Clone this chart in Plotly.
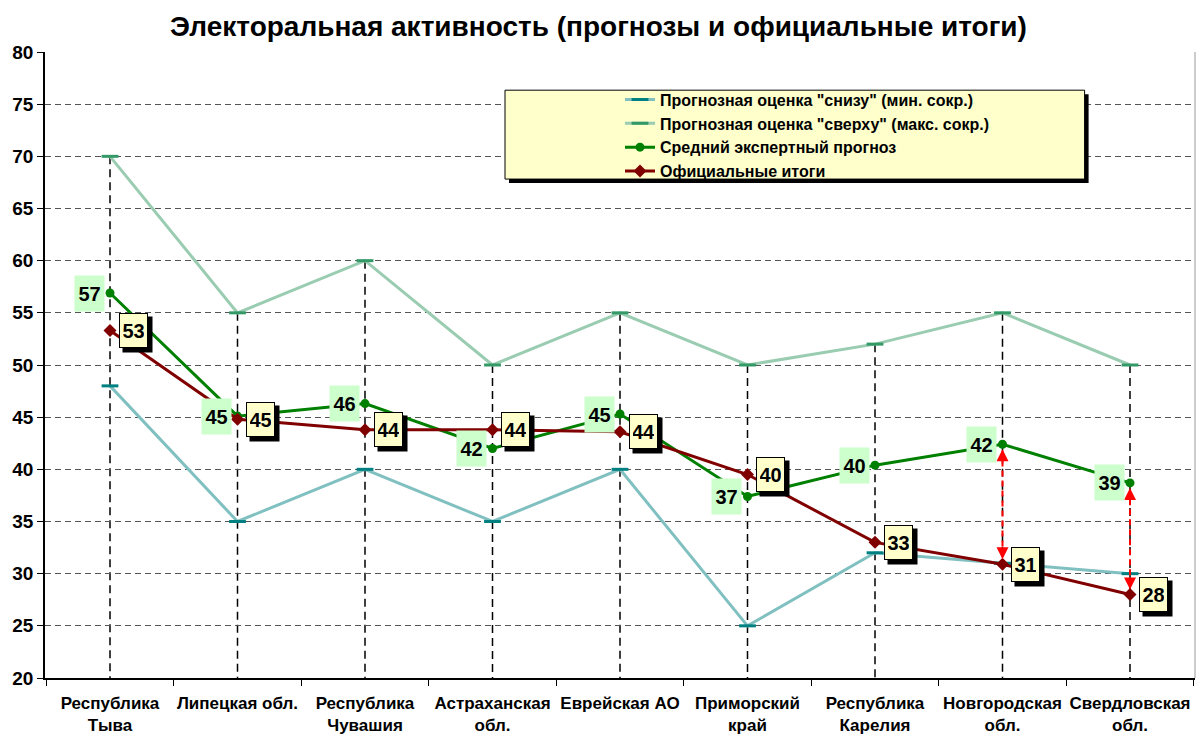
import plotly.graph_objects as go

categories = ["Республика<br>Тыва", "Липецкая обл.", "Республика<br>Чувашия", "Астраханская<br>обл.",
              "Еврейская АО", "Приморский<br>край", "Республика<br>Карелия", "Новгородская<br>обл.",
              "Свердловская<br>обл."]
lower = [48, 35, 40, 35, 40, 25, 32, 31, 30]
upper = [70, 55, 60, 50, 55, 50, 52, 55, 50]
mean_forecast = [56.9, 45.1, 46.3, 42.0, 45.3, 37.4, 40.4, 42.4, 38.7]
official = [53.3, 44.8, 43.8, 43.8, 43.6, 39.5, 33.0, 30.9, 28.0]
mean_labels = ["57", "45", "46", "42", "45", "37", "40", "42", "39"]
official_labels = ["53", "45", "44", "44", "44", "40", "33", "31", "28"]
arrow_idx = [7, 8]

FONT = "Arial, Liberation Sans, sans-serif"

fig = go.Figure()
fig.add_trace(go.Scatter(x=categories, y=lower, mode="lines+markers",
                         name='Прогнозная оценка "снизу" (мин. сокр.)',
                         line=dict(color="#80C0C0", width=3),
                         marker=dict(symbol="line-ew", size=12, line=dict(color="#008080", width=3))))
fig.add_trace(go.Scatter(x=categories, y=upper, mode="lines+markers",
                         name='Прогнозная оценка "сверху" (макс. сокр.)',
                         line=dict(color="#99CCB0", width=3),
                         marker=dict(symbol="line-ew", size=12, line=dict(color="#339966", width=3))))
fig.add_trace(go.Scatter(x=categories, y=mean_forecast, mode="lines+markers",
                         name="Средний экспертный прогноз",
                         line=dict(color="#008000", width=3),
                         marker=dict(symbol="circle", size=9, color="#008000")))
fig.add_trace(go.Scatter(x=categories, y=official, mode="lines+markers",
                         name="Официальные итоги",
                         line=dict(color="#800000", width=3),
                         marker=dict(symbol="diamond", size=10, color="#800000")))

shapes = []
# drop lines
for c, u in zip(categories, upper):
    shapes.append(dict(type="line", xref="x", yref="y", x0=c, x1=c, y0=u, y1=20,
                       line=dict(color="black", width=1.5, dash="8px,5px"), layer="below"))
# red dashed arrows
for i in arrow_idx:
    shapes.append(dict(type="line", xref="x", yref="y", x0=categories[i], x1=categories[i],
                       y0=mean_forecast[i] - 0.6, y1=official[i] + 0.6,
                       line=dict(color="#FF0000", width=2, dash="6px,4px")))
# legend box + shadow
lx0, lx1, ly0, ly1 = 0.4, 0.904, 0.797, 0.939
shapes.append(dict(type="rect", xref="paper", yref="paper", x0=lx0 + 4 / 1150, x1=lx1 + 4 / 1150,
                   y0=ly0 - 4 / 626, y1=ly1 - 4 / 626, fillcolor="black", line=dict(width=0)))
shapes.append(dict(type="rect", xref="paper", yref="paper", x0=lx0, x1=lx1, y0=ly0, y1=ly1,
                   fillcolor="#FFFFCC", line=dict(color="black", width=1)))
# right border
shapes.append(dict(type="line", xref="paper", yref="paper", x0=1, x1=1, y0=0, y1=1,
                   line=dict(color="#999999", width=1)))

annotations = []
for i in arrow_idx:
    annotations.append(dict(x=categories[i], y=mean_forecast[i], xref="x", yref="y", ax=0, ay=12,
                            showarrow=True, arrowhead=2, arrowsize=1.2, arrowwidth=2,
                            arrowcolor="#FF0000", standoff=5, text=""))
    annotations.append(dict(x=categories[i], y=official[i], xref="x", yref="y", ax=0, ay=-12,
                            showarrow=True, arrowhead=2, arrowsize=1.2, arrowwidth=2,
                            arrowcolor="#FF0000", standoff=5, text=""))
for c, v, t in zip(categories, mean_forecast, mean_labels):
    annotations.append(dict(x=c, y=v, xref="x", yref="y", text=t, showarrow=False,
                            xshift=-21, bgcolor="#CCFFCC", width=23, height=29, borderpad=3,
                            font=dict(family=FONT, size=20, color="black", weight="bold")))
for c, v, t in zip(categories, official, official_labels):
    annotations.append(dict(x=c, y=v, xref="x", yref="y", text="", showarrow=False,
                            xshift=27, yshift=-4, bgcolor="black", width=23, height=29, borderpad=3,
                            font=dict(family=FONT, size=20, color="black", weight="bold")))
for c, v, t in zip(categories, official, official_labels):
    annotations.append(dict(x=c, y=v, xref="x", yref="y", text=t, showarrow=False,
                            xshift=23, yshift=0, bgcolor="#FFFFCC", bordercolor="black", borderwidth=1,
                            width=21, height=27, borderpad=3,
                            font=dict(family=FONT, size=20, color="black", weight="bold")))

fig.update_layout(
    width=1197, height=734,
    paper_bgcolor="white", plot_bgcolor="white",
    margin=dict(l=45, r=2, t=52, b=56),
    font=dict(family=FONT, color="black"),
    title=dict(text="<b>Электоральная активность (прогнозы и официальные итоги)</b>",
               x=0.5, xanchor="center", y=1 - 26 / 734, yanchor="middle",
               font=dict(family=FONT, size=28, color="black")),
    xaxis=dict(type="category", tickson="boundaries", ticks="outside", ticklen=6,
               tickcolor="black", showline=True, linecolor="black", linewidth=1.5,
               showgrid=False, tickangle=0, ticklabelstandoff=9,
               tickfont=dict(family=FONT, size=17, color="black", weight="bold"),
               fixedrange=True, automargin=False),
    yaxis=dict(range=[20, 80], dtick=5, ticks="outside", ticklen=6, tickcolor="black",
               showline=True, linecolor="black", linewidth=1.5, zeroline=False,
               showgrid=True, gridcolor="#555555", griddash="6px,4px", gridwidth=1,
               tickfont=dict(family=FONT, size=19, color="black", weight="bold"),
               automargin=False),
    legend=dict(x=0.5, y=0.951, xanchor="left", yanchor="top", bgcolor="rgba(0,0,0,0)",
                borderwidth=0, font=dict(family=FONT, size=16, color="black", weight="bold"),
                tracegroupgap=0),
    shapes=shapes,
    annotations=annotations,
)

fig.write_html("out.html", config={"displayModeBar": False},
               post_script="document.body.style.margin='0';document.body.style.overflow='hidden';")
